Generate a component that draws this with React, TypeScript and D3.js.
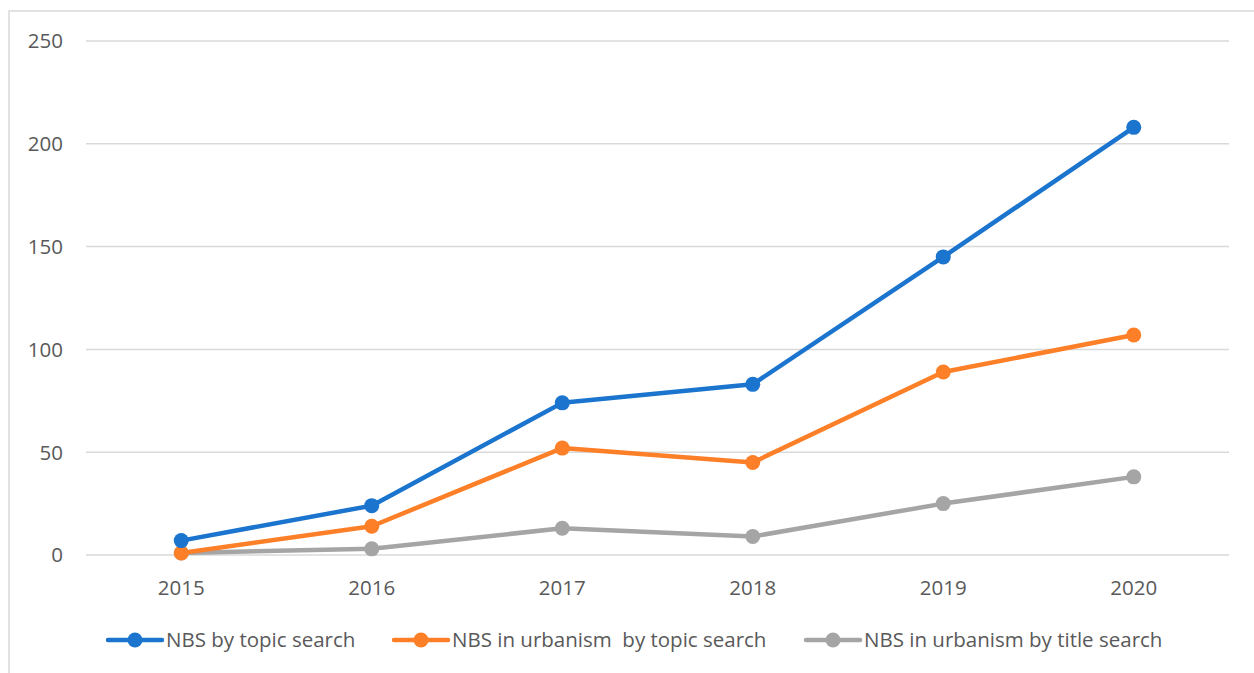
import React from "react";
import * as d3 from "d3";

const years = ["2015", "2016", "2017", "2018", "2019", "2020"];
const topicSearch = [7, 24, 74, 83, 145, 208];
const urbanismTopic = [1, 14, 52, 45, 89, 107];
const urbanismTitle = [1, 3, 13, 9, 25, 38];
const yTicks = [0, 50, 100, 150, 200, 250];
const seriesNames = [
  "NBS by topic search",
  "NBS in urbanism  by topic search",
  "NBS in urbanism by title search",
];
const seriesColors = ["#1b74cd", "#fd7f28", "#a5a5a5"];

const W = 1254;
const H = 673;
const left = 86;
const right = 1229;
const top = 41;
const bottom = 555;
const FONT = "'Open Sans', 'Liberation Sans', sans-serif";
const FS = 20.5;

export default function App() {
  const x = d3.scalePoint<string>().domain(years).range([left, right]).padding(0.5);
  const y = d3.scaleLinear().domain([0, 250]).range([bottom, top]);
  const line = d3
    .line<number>()
    .x((_, i) => x(years[i]) as number)
    .y((d) => y(d));
  const series = [topicSearch, urbanismTopic, urbanismTitle];
  const legendPos = [
    { x1: 108, x2: 162, tx: 166 },
    { x1: 394, x2: 448, tx: 452 },
    { x1: 806, x2: 860, tx: 864 },
  ];
  const legendY = 640;
  return (
    <svg
      width={W}
      height={H}
      style={{ position: "absolute", left: 0, top: 0, background: "#fff" }}
    >
      <rect x={9} y={11} width={1250} height={670} fill="#fff" stroke="#d9d9d9" strokeWidth={1.5} />
      {yTicks.map((t) => (
        <g key={t}>
          <line x1={left} x2={right} y1={y(t)} y2={y(t)} stroke="#d9d9d9" strokeWidth={1.5} />
          <text
            x={63}
            y={y(t)}
            dy="0.36em"
            textAnchor="end"
            fontFamily={FONT}
            fontSize={FS}
            fill="#595959"
          >
            {t}
          </text>
        </g>
      ))}
      {years.map((yr) => (
        <text
          key={yr}
          x={x(yr)}
          y={595}
          textAnchor="middle"
          fontFamily={FONT}
          fontSize={FS}
          fill="#595959"
        >
          {yr}
        </text>
      ))}
      {series
        .map((s, k) => ({ s, k }))
        .reverse()
        .map(({ s, k }) => (
          <g key={k}>
            <path
              d={line(s) || ""}
              fill="none"
              stroke={seriesColors[k]}
              strokeWidth={4.5}
              strokeLinejoin="round"
              strokeLinecap="round"
            />
            {s.map((v, i) => (
              <circle key={i} cx={x(years[i])} cy={y(v)} r={7.5} fill={seriesColors[k]} />
            ))}
          </g>
        ))}
      {seriesNames.map((n, k) => {
        const p = legendPos[k];
        return (
          <g key={n}>
            <line
              x1={p.x1}
              x2={p.x2}
              y1={legendY}
              y2={legendY}
              stroke={seriesColors[k]}
              strokeWidth={4.5}
              strokeLinecap="round"
            />
            <circle cx={(p.x1 + p.x2) / 2} cy={legendY} r={7.5} fill={seriesColors[k]} />
            <text
              x={p.tx}
              y={647}
              fontFamily={FONT}
              fontSize={FS}
              fill="#595959"
              xmlSpace="preserve"
              style={{ whiteSpace: "pre" }}
            >
              {n}
            </text>
          </g>
        );
      })}
    </svg>
  );
}
